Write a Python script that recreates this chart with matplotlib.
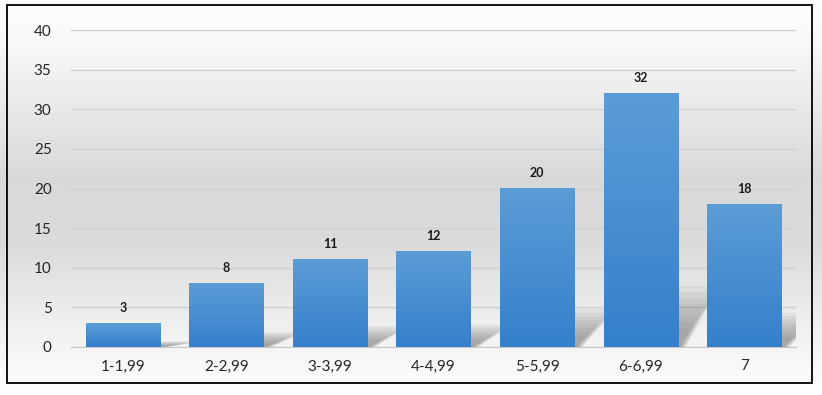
import matplotlib.pyplot as plt
import numpy as np
from matplotlib.patches import Rectangle, Polygon
from matplotlib.colors import LinearSegmentedColormap

categories = ["1-1,99", "2-2,99", "3-3,99", "4-4,99", "5-5,99", "6-6,99", "7"]
counts = [3, 8, 11, 12, 20, 32, 18]

plt.rcParams['font.family'] = ['Lato', 'DejaVu Sans']

fig = plt.figure(figsize=(8.22, 3.95), dpi=100)

# background: white at top and bottom, grey in the middle
bg = fig.add_axes([0, 0, 1, 1], zorder=-10)
bg.axis("off")
grad = np.interp(np.linspace(0, 1, 400), [0, 0.12, 0.45, 0.62, 0.85, 1.0],
                 [1.0, 0.97, 0.85, 0.86, 0.95, 1.0]).reshape(-1, 1)
bg.imshow(np.dstack([grad, grad, grad]), aspect="auto", extent=[0, 1, 0, 1])
bg.set_xlim(0, 1)
bg.set_ylim(0, 1)
bg.add_patch(Rectangle((7 / 822, 12 / 395), 805 / 822, 378 / 395,
                       fill=False, edgecolor="black", lw=1.3))

ax = fig.add_axes([71 / 822, 48 / 395, 725 / 822, 317 / 395])
ax.patch.set_alpha(0)
x = np.arange(len(categories))
width = 0.715

# soft shadows behind bars, skewed to the right
for xi, v in zip(x, counts):
    h = 0.24 * v
    for k in range(8):
        f = 1 - 0.1 * k
        right = xi + width / 2
        poly = Polygon([(right - 0.02, 0),
                        (right + 0.08 * f, 0),
                        (right + 0.08 * f + 0.32 * f, h * f),
                        (right - 0.02, h * f)],
                       closed=True, facecolor="#4d4d4d", alpha=0.07,
                       edgecolor="none", zorder=1)
        ax.add_patch(poly)

# bars with vertical gradient
cmap = LinearSegmentedColormap.from_list("bars", ["#3580cb", "#5b9cd6"])
bars = ax.bar(x, counts, width=width, color="none", zorder=2)
for b in bars:
    x0, w, h = b.get_x(), b.get_width(), b.get_height()
    g = np.linspace(0, 1, 100).reshape(-1, 1)
    ax.imshow(g, cmap=cmap, origin="lower", aspect="auto",
              extent=[x0, x0 + w, 0, h], zorder=3, vmin=0, vmax=1)
    ax.text(x0 + w / 2, h + 1.2, str(int(h)), ha="center", va="bottom",
            fontsize=9, fontweight="bold", color="#1a1a1a", zorder=4)
ax.set_xlim(-0.5, len(categories) - 0.5)
ax.set_ylim(0, 40)

ax.set_yticks(np.arange(0, 41, 5))
ax.yaxis.grid(True, color="#d0d0d0", lw=1)
ax.set_axisbelow(True)
for s in ["top", "right", "left"]:
    ax.spines[s].set_visible(False)
ax.spines["bottom"].set_color("#c8c8c8")
ax.set_xticks(x)
ax.set_xticklabels(categories)
ax.tick_params(axis="both", length=0, labelsize=11, colors="#262626")
ax.tick_params(axis="y", pad=14)
ax.tick_params(axis="x", pad=9)

fig.savefig("out.png", dpi=100)
